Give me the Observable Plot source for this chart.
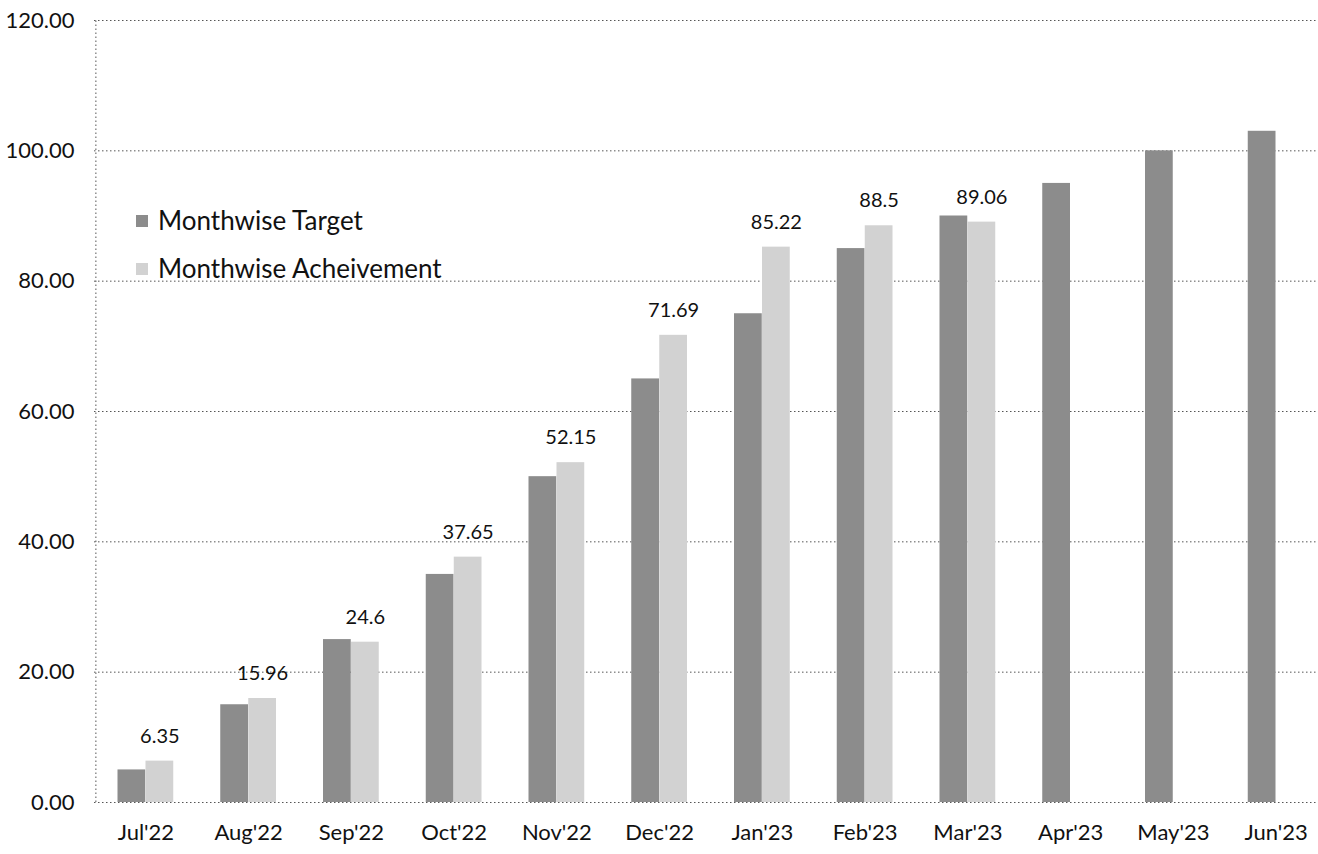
<!DOCTYPE html>
<html>
<head>
<meta charset="utf-8">
<script src="https://cdn.jsdelivr.net/npm/d3@7"></script>
<script src="https://cdn.jsdelivr.net/npm/@observablehq/plot@0.6"></script>
<style>
  html, body { margin: 0; padding: 0; background: #fff; overflow: hidden; }
  #wrap { position: relative; width: 1318px; height: 854px; font-family: Lato, "Open Sans", sans-serif; }
  #legend { position: absolute; left: 136px; top: 196px; font-size: 26px; color: #111; line-height: 48px; }
  #legend .sw { display: inline-block; width: 12px; height: 12px; margin-right: 10px; vertical-align: middle; position: relative; top: -2px; }
</style>
</head>
<body>
<div id="wrap">
  <div id="chart"></div>
  <div id="legend">
    <div><span class="sw" style="background:#8c8c8c"></span>Monthwise Target</div>
    <div><span class="sw" style="background:#d2d2d2"></span>Monthwise Acheivement</div>
  </div>
</div>
<script>
const months = ["Jul'22","Aug'22","Sep'22","Oct'22","Nov'22","Dec'22","Jan'23","Feb'23","Mar'23","Apr'23","May'23","Jun'23"];
const target = [5, 15, 25, 35, 50, 65, 75, 85, 90, 95, 100, 103];
const achievement = [6.35, 15.96, 24.6, 37.65, 52.15, 71.69, 85.22, 88.5, 89.06, null, null, null];
const achievementLabels = ["6.35","15.96","24.6","37.65","52.15","71.69","85.22","88.5","89.06"];
const yTicks = [0, 20, 40, 60, 80, 100, 120];

const tData = months.map((m, i) => ({month: m, value: target[i]}));
const aData = months.map((m, i) => ({month: m, value: achievement[i], label: achievementLabels[i]})).filter(d => d.value != null);

const chart = Plot.plot({
  width: 1318,
  height: 854,
  marginTop: 20,
  marginBottom: 52,
  marginLeft: 94,
  marginRight: -9,
  style: {fontFamily: "Lato, 'Open Sans', sans-serif", fontSize: "20px", color: "#111", background: "#fff"},
  x: {domain: months, padding: 0, round: false, label: null},
  y: {domain: [0, 120], label: null},
  marks: [
    Plot.ruleY(yTicks, {stroke: "#555", strokeDasharray: "1.5,2.5", strokeWidth: 1}),
    Plot.ruleX([months[0]], {x: d => d, dx: -50, y1: 0, y2: 120, stroke: "#555", strokeDasharray: "1.5,2.5"}),
    Plot.barY(tData, {x: "month", y: "value", fill: "#8c8c8c", insetLeft: 23.5, insetRight: 51.5}),
    Plot.barY(aData, {x: "month", y: "value", fill: "#d2d2d2", insetLeft: 51.5, insetRight: 23.5}),
    Plot.text(aData, {x: "month", y: "value", text: "label", dx: 14, dy: -25, fontSize: 20, fill: "#111"}),
    Plot.axisY({ticks: yTicks, tickFormat: d3.format(".2f"), tickSize: 0, tickPadding: 20, fontSize: 22, label: null, fill: "#111"}),
    Plot.axisX({tickSize: 0, tickPadding: 22, fontSize: 22, label: null, fill: "#111"})
  ]
});
document.getElementById("chart").appendChild(chart);
</script>
</body>
</html>
